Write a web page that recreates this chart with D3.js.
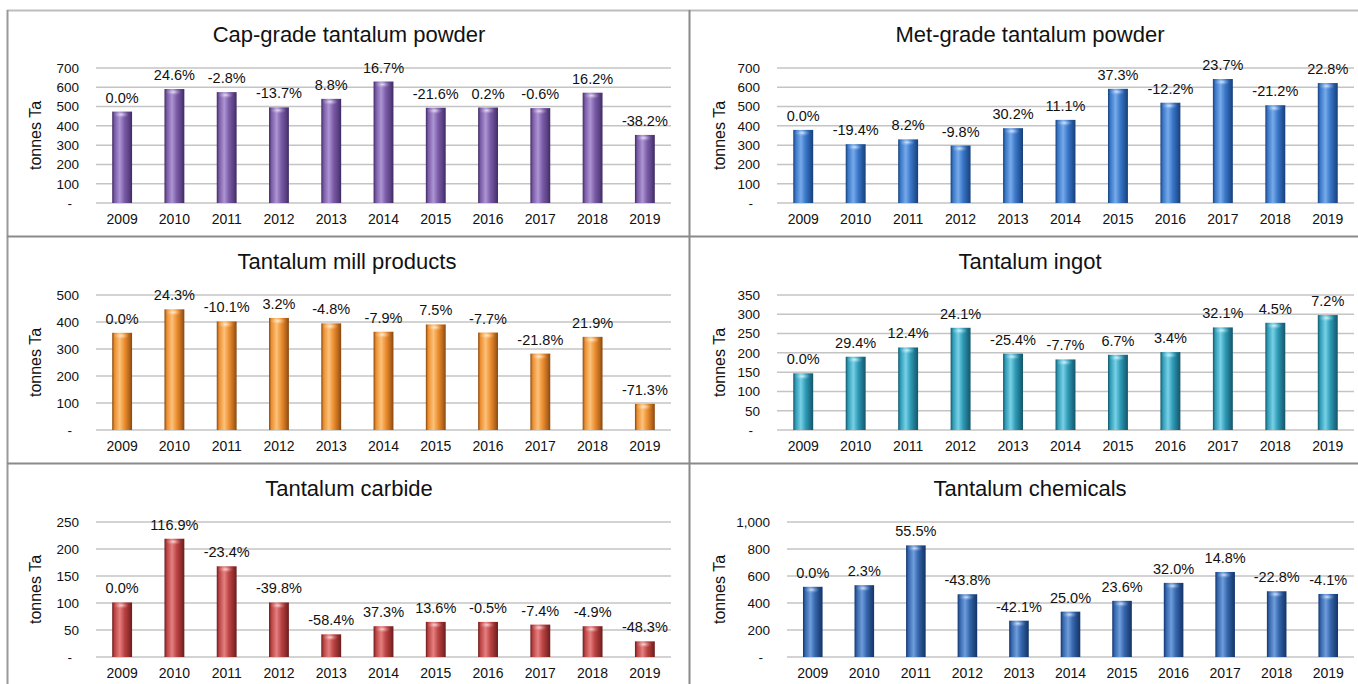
<!DOCTYPE html>
<html>
<head>
<meta charset="utf-8">
<script src="https://cdn.jsdelivr.net/npm/d3@7"></script>
<style>
  html, body { margin: 0; padding: 0; background: #fff; }
  svg { display: block; font-family: "Liberation Sans", Arial, sans-serif; }
</style>
</head>
<body>
<svg id="chart" width="1358" height="684"></svg>
<script>
// Years shown on every panel
const years = ["2009", "2010", "2011", "2012", "2013", "2014", "2015", "2016", "2017", "2018", "2019"];

// Tonnes of tantalum per product, with year-on-year change labels
const capGrade    = [474, 591, 575, 496, 540, 630, 494, 495, 492, 572, 353];
const capGradeChg = ["0.0%", "24.6%", "-2.8%", "-13.7%", "8.8%", "16.7%", "-21.6%", "0.2%", "-0.6%", "16.2%", "-38.2%"];

const metGrade    = [379, 305, 330, 298, 388, 431, 592, 520, 643, 507, 622];
const metGradeChg = ["0.0%", "-19.4%", "8.2%", "-9.8%", "30.2%", "11.1%", "37.3%", "-12.2%", "23.7%", "-21.2%", "22.8%"];

const millProducts    = [360, 447, 402, 415, 395, 364, 391, 361, 283, 345, 97];
const millProductsChg = ["0.0%", "24.3%", "-10.1%", "3.2%", "-4.8%", "-7.9%", "7.5%", "-7.7%", "-21.8%", "21.9%", "-71.3%"];

const ingot    = [147, 190, 214, 265, 198, 183, 195, 202, 266, 278, 298];
const ingotChg = ["0.0%", "29.4%", "12.4%", "24.1%", "-25.4%", "-7.7%", "6.7%", "3.4%", "32.1%", "4.5%", "7.2%"];

const carbide    = [101, 219, 168, 101, 42, 57, 65, 65, 60, 57, 29];
const carbideChg = ["0.0%", "116.9%", "-23.4%", "-39.8%", "-58.4%", "37.3%", "13.6%", "-0.5%", "-7.4%", "-4.9%", "-48.3%"];

const chemicals    = [520, 532, 827, 465, 269, 336, 416, 549, 630, 487, 467];
const chemicalsChg = ["0.0%", "2.3%", "55.5%", "-43.8%", "-42.1%", "25.0%", "23.6%", "32.0%", "14.8%", "-22.8%", "-4.1%"];

// Axis tick values per panel
const capTicks      = [0, 100, 200, 300, 400, 500, 600, 700];
const metTicks      = [0, 100, 200, 300, 400, 500, 600, 700];
const millTicks     = [0, 100, 200, 300, 400, 500];
const ingotTicks    = [0, 50, 100, 150, 200, 250, 300, 350];
const carbideTicks  = [0, 50, 100, 150, 200, 250];
const chemicalTicks = [0, 200, 400, 600, 800, 1000];

const titles = ["Cap-grade tantalum powder", "Met-grade tantalum powder", "Tantalum mill products",
                "Tantalum ingot", "Tantalum carbide", "Tantalum chemicals"];

const panels = [
  { title: titles[0], values: capGrade,     changes: capGradeChg,     ticks: capTicks },
  { title: titles[1], values: metGrade,     changes: metGradeChg,     ticks: metTicks },
  { title: titles[2], values: millProducts, changes: millProductsChg, ticks: millTicks },
  { title: titles[3], values: ingot,        changes: ingotChg,        ticks: ingotTicks },
  { title: titles[4], values: carbide,      changes: carbideChg,      ticks: carbideTicks },
  { title: titles[5], values: chemicals,    changes: chemicalsChg,    ticks: chemicalTicks }
];

// Layout and colour of each panel
const layout = [
  { top: 10,  plotX0: 96,  plotX1: 671,  titleX: 349,  axisTitleX: 41,  colors: ["#3f2a63", "#7a5ba6", "#ad95d4", "#5a4183"] },
  { top: 10,  plotX0: 777, plotX1: 1354, titleX: 1030, axisTitleX: 725, colors: ["#173f78", "#3a77c8", "#77aaea", "#24559a"] },
  { top: 237, plotX0: 96,  plotX1: 671,  titleX: 347,  axisTitleX: 41,  colors: ["#87480e", "#ec8e30", "#fcc27a", "#b8671c"] },
  { top: 237, plotX0: 777, plotX1: 1354, titleX: 1030, axisTitleX: 725, colors: ["#145667", "#2f9bb6", "#78d1e6", "#1d7089"] },
  { top: 464, plotX0: 96,  plotX1: 671,  titleX: 349,  axisTitleX: 41,  colors: ["#6a1c1c", "#bb4343", "#e58080", "#8f2c2c"] },
  { top: 464, plotX0: 787, plotX1: 1354, titleX: 1030, axisTitleX: 725, colors: ["#14336a", "#3566ad", "#6f9ddb", "#20477f"] }
];

const svg = d3.select("#chart");
const defs = svg.append("defs");

// Panel frame lines
const frame = svg.append("g");
frame.append("line").attr("x1", 7).attr("x2", 1358).attr("y1", 10.5).attr("y2", 10.5)
  .attr("stroke", "#bdbdbd").attr("stroke-width", 2);
frame.append("line").attr("x1", 7.5).attr("x2", 7.5).attr("y1", 10).attr("y2", 684)
  .attr("stroke", "#9a9a9a").attr("stroke-width", 2);
frame.append("line").attr("x1", 689.5).attr("x2", 689.5).attr("y1", 10).attr("y2", 684)
  .attr("stroke", "#8a8a8a").attr("stroke-width", 2);
[236.5, 463.5].forEach(y => {
  frame.append("line").attr("x1", 7).attr("x2", 1358).attr("y1", y).attr("y2", y)
    .attr("stroke", "#8a8a8a").attr("stroke-width", 2);
});

const plotTopOffset = 58;
const plotHeight = 135;

panels.forEach((p, i) => {
  const L = layout[i];
  const yTop = L.top + plotTopOffset;
  const yBase = yTop + plotHeight;
  const g = svg.append("g");

  // Cylinder-like shading for the bars
  const gradId = "barGrad" + i;
  const grad = defs.append("linearGradient").attr("id", gradId)
    .attr("x1", "0%").attr("x2", "100%").attr("y1", "0%").attr("y2", "0%");
  [[0, L.colors[0]], [0.12, L.colors[1]], [0.38, L.colors[2]], [0.62, L.colors[1]],
   [0.85, L.colors[3]], [1, L.colors[0]]].forEach(([o, c]) => {
    grad.append("stop").attr("offset", o).attr("stop-color", c);
  });
  const capId = "capGrad" + i;
  const cap = defs.append("radialGradient").attr("id", capId);
  cap.append("stop").attr("offset", 0).attr("stop-color", "#ffffff").attr("stop-opacity", 0.75);
  cap.append("stop").attr("offset", 1).attr("stop-color", L.colors[2]).attr("stop-opacity", 0);

  const x = d3.scaleBand().domain(years).range([L.plotX0, L.plotX1]).paddingInner(0.62).paddingOuter(0.31);
  const yMax = p.ticks[p.ticks.length - 1];
  const y = d3.scaleLinear().domain([0, yMax]).range([yBase, yTop]);

  // Title
  g.append("text").attr("x", L.titleX).attr("y", L.top + 32)
    .attr("text-anchor", "middle").attr("font-size", 22).attr("fill", "#111")
    .text(p.title);

  // Gridlines
  g.append("g").selectAll("line").data(p.ticks).join("line")
    .attr("x1", L.plotX0).attr("x2", L.plotX1)
    .attr("y1", d => y(d)).attr("y2", d => y(d))
    .attr("stroke", "#c4c4c4").attr("stroke-width", 1.5);

  // Value axis
  const yAxis = d3.axisLeft(y).tickValues(p.ticks).tickSize(0).tickPadding(17)
    .tickFormat(d => d === 0 ? "-" : d3.format(",")(d));
  const ya = g.append("g").attr("transform", `translate(${L.plotX0},0)`).call(yAxis);
  ya.select(".domain").remove();
  ya.selectAll("text").attr("font-size", 13.5).attr("fill", "#111")
    .attr("font-family", "'Liberation Sans', Arial, sans-serif")
    .attr("dx", d => d === 0 ? -7 : 0);

  // Axis title
  g.append("text")
    .attr("transform", `translate(${L.axisTitleX},${(yTop + yBase) / 2}) rotate(-90)`)
    .attr("text-anchor", "middle").attr("font-size", 16).attr("fill", "#111")
    .text("tonnes Ta");

  // Category axis
  const xAxis = d3.axisBottom(x).tickSize(0).tickPadding(11);
  const xa = g.append("g").attr("transform", `translate(0,${yBase})`).call(xAxis);
  xa.select(".domain").remove();
  xa.selectAll("text").attr("font-size", 14).attr("fill", "#111")
    .attr("font-family", "'Liberation Sans', Arial, sans-serif");

  const data = years.map((yr, k) => ({ yr, v: p.values[k], c: p.changes[k] }));

  // Bars
  g.append("g").selectAll("rect").data(data).join("rect")
    .attr("x", d => x(d.yr)).attr("width", x.bandwidth())
    .attr("y", d => y(d.v)).attr("height", d => yBase - y(d.v))
    .attr("fill", `url(#${gradId})`);

  // Highlight on bar tops
  g.append("g").selectAll("ellipse").data(data).join("ellipse")
    .attr("cx", d => x(d.yr) + x.bandwidth() * 0.45)
    .attr("cy", d => y(d.v) + 3)
    .attr("rx", x.bandwidth() * 0.4).attr("ry", 3.5)
    .attr("fill", `url(#${capId})`);

  // Year-on-year change labels
  g.append("g").selectAll("text").data(data).join("text")
    .attr("x", d => x(d.yr) + x.bandwidth() / 2)
    .attr("y", d => y(d.v) - 9)
    .attr("text-anchor", "middle").attr("font-size", 14.5).attr("fill", "#111")
    .text(d => d.c);
});
</script>
</body>
</html>
